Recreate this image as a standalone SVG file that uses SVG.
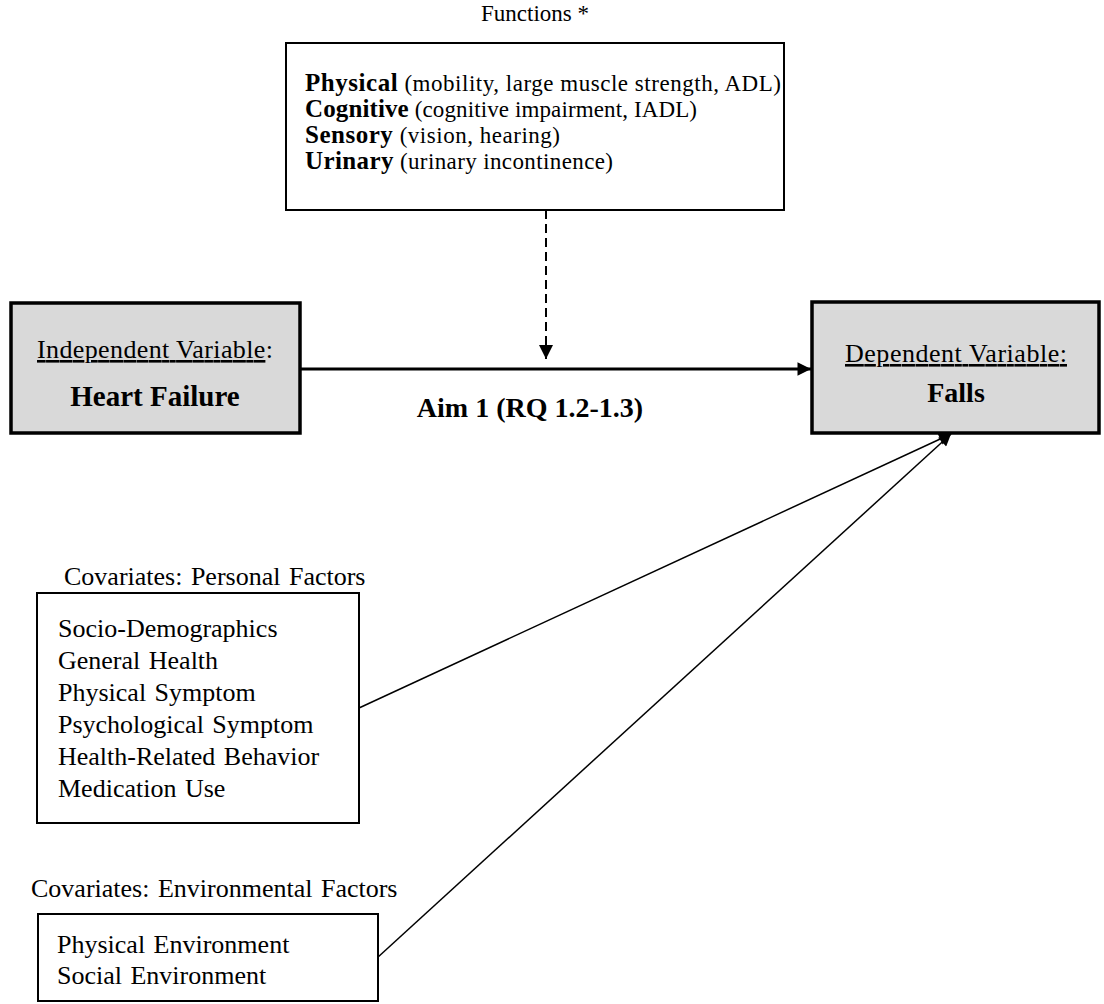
<svg xmlns="http://www.w3.org/2000/svg" width="1104" height="1004" viewBox="0 0 1104 1004" font-family="'Liberation Serif','Times New Roman',serif">
<style>
text,tspan{font-family:"Liberation Serif","Times New Roman",serif;fill:#000}
.b{font-weight:bold}
.box{fill:#fff;stroke:#000;stroke-width:2}
.gbox{fill:#d9d9d9;stroke:#000;stroke-width:3.5}
.reg{font-size:23px}
.bl{font-size:25px;font-weight:bold}
.cov{font-size:26px;word-spacing:2px}
.lbl{font-size:26px}
</style>
<defs>
<marker id="ah" viewBox="0 0 10 10" refX="10" refY="5" markerWidth="5" markerHeight="4.5" orient="auto" markerUnits="strokeWidth"><path d="M0,0L10,5L0,10z" fill="#000"/></marker>
<marker id="ah2" viewBox="0 0 10 10" refX="10" refY="5" markerWidth="8" markerHeight="7" orient="auto" markerUnits="strokeWidth"><path d="M0,0L10,5L0,10z" fill="#000"/></marker>
<marker id="ah3" viewBox="0 0 10 10" refX="10" refY="5" markerWidth="9" markerHeight="8" orient="auto" markerUnits="strokeWidth"><path d="M0,0L10,5L0,10z" fill="#000"/></marker>
</defs>
<rect width="1104" height="1004" fill="#fff"/>
<g id="connectors">
<line x1="301" y1="369" x2="811" y2="369" stroke="#000" stroke-width="3" marker-end="url(#ah)"/>
<line x1="546" y1="210" x2="546" y2="359" stroke="#000" stroke-width="2" stroke-dasharray="9,5" marker-end="url(#ah2)"/>
<line x1="359" y1="708" x2="951" y2="434" stroke="#000" stroke-width="1.5" marker-end="url(#ah3)"/>
<line x1="377" y1="958" x2="951" y2="434" stroke="#000" stroke-width="1.5" marker-end="url(#ah3)"/>
</g>
<g id="functions">
<text x="535" y="21" text-anchor="middle" class="reg">Functions *</text>
<rect class="box" x="286" y="43" width="498" height="167"/>
<text x="305" y="91" textLength="476" lengthAdjust="spacing"><tspan class="bl">Physical</tspan><tspan class="reg"> (mobility, large muscle strength, ADL)</tspan></text>
<text x="305" y="117" textLength="392" lengthAdjust="spacing"><tspan class="bl">Cognitive</tspan><tspan class="reg"> (cognitive impairment, IADL)</tspan></text>
<text x="305" y="143" textLength="255" lengthAdjust="spacing"><tspan class="bl">Sensory</tspan><tspan class="reg"> (vision, hearing)</tspan></text>
<text x="305" y="169" textLength="308" lengthAdjust="spacing"><tspan class="bl">Urinary</tspan><tspan class="reg"> (urinary incontinence)</tspan></text>
</g>
<g id="heart-failure">
<rect class="gbox" x="11" y="303" width="289" height="130"/>
<text x="37" y="358" class="lbl" textLength="236" lengthAdjust="spacing"><tspan text-decoration="underline">Independent Variable</tspan>:</text>
<text x="155" y="406" text-anchor="middle" class="b" style="font-size:29px">Heart Failure</text>
</g>
<g id="aim-label">
<text x="530" y="417" text-anchor="middle" class="b" style="font-size:28px">Aim 1 (RQ 1.2-1.3)</text>
</g>
<g id="falls">
<rect class="gbox" x="812" y="302" width="287" height="131"/>
<text x="845" y="362" class="lbl" text-decoration="underline" textLength="222" lengthAdjust="spacing">Dependent Variable:</text>
<text x="956" y="402" text-anchor="middle" class="b" style="font-size:28px">Falls</text>
</g>
<g id="personal-factors">
<text x="64" y="585" class="cov">Covariates: Personal Factors</text>
<rect class="box" x="37" y="593" width="322" height="230"/>
<text x="58" y="637" class="cov">Socio-Demographics</text>
<text x="58" y="669" class="cov">General Health</text>
<text x="58" y="701" class="cov">Physical Symptom</text>
<text x="58" y="733" class="cov">Psychological Symptom</text>
<text x="58" y="765" class="cov">Health-Related Behavior</text>
<text x="58" y="797" class="cov">Medication Use</text>
</g>
<g id="environmental-factors">
<text x="31" y="897" class="cov">Covariates: Environmental Factors</text>
<rect class="box" x="38" y="914" width="340" height="87"/>
<text x="57" y="953" class="cov">Physical Environment</text>
<text x="57" y="984" class="cov">Social Environment</text>
</g>
</svg>
